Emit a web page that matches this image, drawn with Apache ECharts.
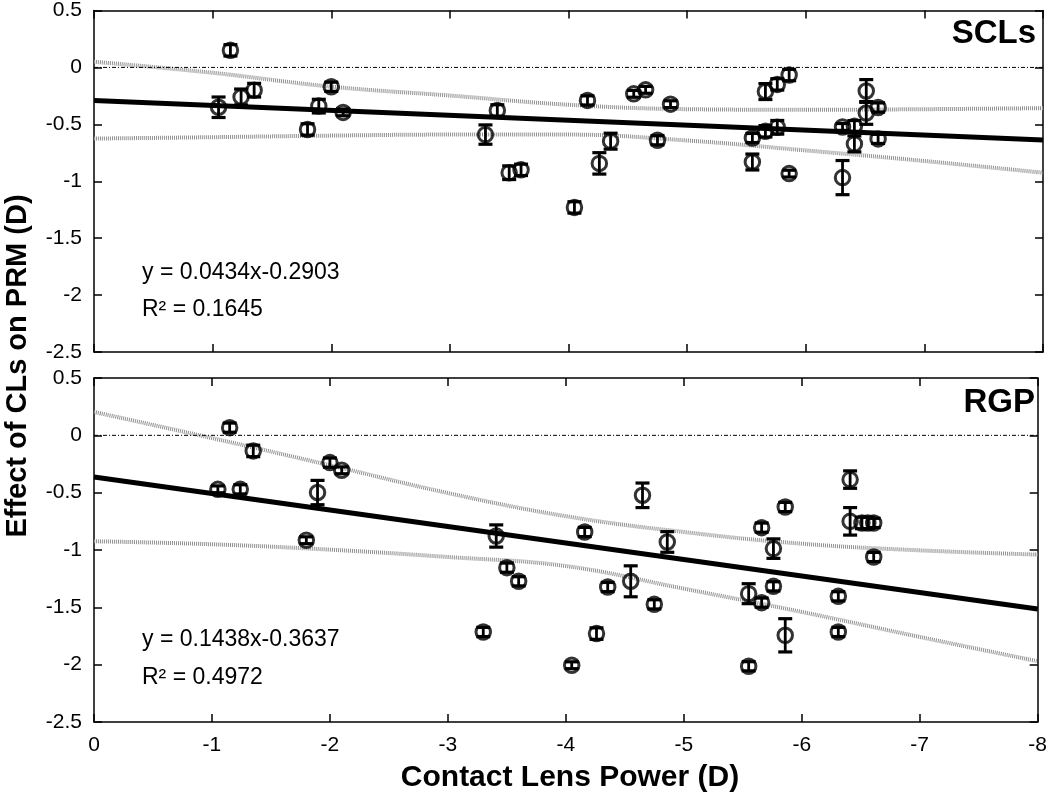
<!DOCTYPE html>
<html>
<head>
<meta charset="utf-8">
<script src="https://cdn.jsdelivr.net/npm/echarts@6/dist/echarts.min.js"></script>
<style>
html,body{margin:0;padding:0;background:#fff;}
#chart{width:1050px;height:796px;}
</style>
</head>
<body>
<div id="chart"></div>
<script>
// ---- Data ----
const xTicks = [0, -1, -2, -3, -4, -5, -6, -7, -8];

// SCLs panel
const powerSCL = [-1.05, -1.15, -1.24, -1.35, -1.80, -1.895, -2.00, -2.10,
  -3.30, -3.40, -3.50, -3.60,
  -4.05, -4.16, -4.26, -4.355, -4.55, -4.65, -4.75, -4.86,
  -5.55, -5.55, -5.66, -5.66, -5.76, -5.76, -5.86, -5.86,
  -6.31, -6.31, -6.41, -6.41, -6.51, -6.51, -6.61, -6.61];
const effectSCL = [-0.35, 0.15, -0.26, -0.20, -0.545, -0.34, -0.17, -0.395,
  -0.59, -0.378, -0.925, -0.90,
  -1.23, -0.29, -0.843, -0.648, -0.232, -0.197, -0.64, -0.323,
  -0.62, -0.831, -0.212, -0.561, -0.149, -0.526, -0.067, -0.933,
  -0.968, -0.523, -0.517, -0.672, -0.207, -0.40, -0.352, -0.628];
const errSCL = [0.09, 0.05, 0.07, 0.06, 0.05, 0.06, 0.04, 0.03,
  0.085, 0.05, 0.06, 0.05,
  0.05, 0.04, 0.094, 0.07, 0.03, 0.03, 0.04, 0.03,
  0.04, 0.07, 0.07, 0.05, 0.05, 0.06, 0.05, 0.03,
  0.15, 0.03, 0.05, 0.07, 0.10, 0.10, 0.04, 0.04];

// RGP panel
const powerRGP = [-1.05, -1.15, -1.24, -1.35, -1.80, -1.895, -2.00, -2.10,
  -3.30, -3.41, -3.50, -3.60,
  -4.05, -4.16, -4.26, -4.355, -4.55, -4.65, -4.75, -4.86,
  -5.55, -5.55, -5.66, -5.66, -5.76, -5.76, -5.86, -5.86,
  -6.31, -6.31, -6.41, -6.41, -6.51, -6.56, -6.61, -6.61];
const effectRGP = [-0.471, 0.067, -0.471, -0.136, -0.915, -0.499, -0.238, -0.305,
  -1.715, -0.878, -1.154, -1.273,
  -2.005, -0.843, -1.729, -1.323, -1.273, -0.523, -1.474, -0.930,
  -1.381, -2.014, -0.805, -1.459, -0.988, -1.317, -0.625, -1.744,
  -1.404, -1.715, -0.386, -0.75, -0.764, -0.764, -0.764, -1.061];
const errRGP = [0.03, 0.04, 0.04, 0.05, 0.03, 0.106, 0.04, 0.03,
  0.04, 0.097, 0.04, 0.04,
  0.03, 0.04, 0.05, 0.04, 0.135, 0.107, 0.04, 0.09,
  0.087, 0.04, 0.04, 0.04, 0.085, 0.04, 0.04, 0.145,
  0.04, 0.04, 0.076, 0.12, 0.05, 0.05, 0.04, 0.04];

// Regression lines (end points) and confidence bands
const regX = [0, -8];
const regSCL = [-0.2903, -0.6375];
const regRGP = [-0.3637, -1.514];
const bandX = [0, -1, -2, -3, -4, -5, -6, -7, -8];
const upperSCL = [0.05, -0.047, -0.169, -0.247, -0.328, -0.367, -0.372, -0.367, -0.358];
const lowerSCL = [-0.625, -0.613, -0.599, -0.59, -0.59, -0.642, -0.729, -0.822, -0.925];
const upperRGP = [0.204, -0.024, -0.261, -0.503, -0.705, -0.843, -0.945, -1.003, -1.04];
const lowerRGP = [-0.924, -0.95, -0.997, -1.061, -1.14, -1.337, -1.54, -1.758, -1.97];

const eqSCL = ['y = 0.0434x-0.2903', 'R\u00B2 = 0.1645'];
const eqRGP = ['y = 0.1438x-0.3637', 'R\u00B2 = 0.4972'];
const panelNames = ['SCLs', 'RGP'];

// ---- Chart ----
const FONT = 'Arial, "Liberation Sans", Helvetica, sans-serif';
const zip = (a, b) => a.map((v, i) => [v, b[i]]);
const zip3 = (a, b, c) => a.map((v, i) => [v, b[i], c[i]]);

function xAxisDef(grid, pos, labels) {
  return {
    gridIndex: grid, type: 'value', min: -8, max: 0, interval: 1, inverse: true,
    position: pos,
    axisLine: {show: true, onZero: false, lineStyle: {color: '#000', width: 1.5}},
    axisTick: {show: true, inside: true, length: 8, lineStyle: {color: '#000', width: 1.5}},
    axisLabel: {show: labels, color: '#000', fontSize: 21, fontFamily: FONT, margin: 13},
    splitLine: {show: false}
  };
}
function yAxisDef(grid, pos, labels) {
  return {
    gridIndex: grid, type: 'value', min: -2.5, max: 0.5, interval: 0.5,
    position: pos,
    axisLine: {show: true, onZero: false, lineStyle: {color: '#000', width: 1.5}},
    axisTick: {show: true, inside: true, length: 8, lineStyle: {color: '#000', width: 1.5}},
    axisLabel: {show: labels, color: '#000', fontSize: 21, fontFamily: FONT, margin: 12},
    splitLine: {show: false}
  };
}

function errRender(params, api) {
  const x = api.value(0), y = api.value(1), e = api.value(2);
  const t = api.coord([x, y + e]);
  const b = api.coord([x, y - e]);
  const hw = 7;
  const st = {stroke: '#000', lineWidth: 2.8, fill: null};
  const cap = {stroke: '#000', lineWidth: 3.2, fill: null};
  return {
    type: 'group',
    children: [
      {type: 'line', shape: {x1: t[0], y1: t[1], x2: b[0], y2: b[1]}, style: st},
      {type: 'line', shape: {x1: t[0] - hw, y1: t[1], x2: t[0] + hw, y2: t[1]}, style: cap},
      {type: 'line', shape: {x1: b[0] - hw, y1: b[1], x2: b[0] + hw, y2: b[1]}, style: cap}
    ]
  };
}

function panelSeries(xi, yi, upper, lower, reg, px, py, pe) {
  return [
    {type: 'line', xAxisIndex: xi, yAxisIndex: yi, data: zip(bandX, upper), smooth: 0.4,
      showSymbol: false, silent: true, lineStyle: {color: '#909090', width: 4, type: [1, 1]}},
    {type: 'line', xAxisIndex: xi, yAxisIndex: yi, data: zip(bandX, lower), smooth: 0.4,
      showSymbol: false, silent: true, lineStyle: {color: '#909090', width: 4, type: [1, 1]}},
    {type: 'line', xAxisIndex: xi, yAxisIndex: yi, data: [[0, 0], [-8, 0]],
      showSymbol: false, silent: true, lineStyle: {color: '#000', width: 1, type: [4, 2, 1, 2]}},
    {type: 'line', xAxisIndex: xi, yAxisIndex: yi, data: zip(regX, reg),
      showSymbol: false, silent: true, lineStyle: {color: '#000', width: 5}},
    {type: 'custom', xAxisIndex: xi, yAxisIndex: yi, data: zip3(px, py, pe),
      renderItem: errRender, encode: {x: 0, y: 1}, silent: true, z: 5},
    {type: 'scatter', xAxisIndex: xi, yAxisIndex: yi, data: zip(px, py),
      symbol: 'circle', symbolSize: 14.5, silent: true, z: 6,
      itemStyle: {color: 'rgba(0,0,0,0)', borderColor: '#000', borderWidth: 3}}
  ];
}

function txt(x, y, text, font, align) {
  return {type: 'text', x: x, y: y, silent: true, z: 100,
    style: {text: text, font: font, fill: '#000', textAlign: align, align: align,
      textVerticalAlign: 'middle', verticalAlign: 'middle'}};
}

const option = {
  animation: false,
  backgroundColor: '#fff',
  grid: [
    {left: 94, top: 8, width: 949, height: 344},
    {left: 94, top: 378, width: 949, height: 344}
  ],
  xAxis: [xAxisDef(0, 'bottom', false), xAxisDef(0, 'top', false),
          xAxisDef(1, 'bottom', true), xAxisDef(1, 'top', false)],
  yAxis: [yAxisDef(0, 'left', true), yAxisDef(0, 'right', false),
          yAxisDef(1, 'left', true), yAxisDef(1, 'right', false)],
  series: [].concat(
    panelSeries(0, 0, upperSCL, lowerSCL, regSCL, powerSCL, effectSCL, errSCL),
    panelSeries(2, 2, upperRGP, lowerRGP, regRGP, powerRGP, effectRGP, errRGP)
  ),
  graphic: [
    txt(142, 273, eqSCL[0], '23px ' + FONT, 'left'),
    txt(142, 310, eqSCL[1], '23px ' + FONT, 'left'),
    txt(142, 640, eqRGP[0], '23px ' + FONT, 'left'),
    txt(142, 678, eqRGP[1], '23px ' + FONT, 'left'),
    txt(1036, 34, panelNames[0], 'bold 33px ' + FONT, 'right'),
    txt(1035, 403, panelNames[1], 'bold 33px ' + FONT, 'right'),
    txt(570, 778, 'Contact Lens Power (D)', 'bold 30px ' + FONT, 'center'),
    {type: 'text', x: 18, y: 366, rotation: Math.PI / 2, silent: true, z: 100,
      style: {text: 'Effect of CLs on PRM (D)', font: 'bold 29px ' + FONT, fill: '#000',
        textAlign: 'center', align: 'center', textVerticalAlign: 'middle', verticalAlign: 'middle'}}
  ]
};

const chart = echarts.init(document.getElementById('chart'), null, {renderer: 'canvas'});
chart.setOption(option);
</script>
</body>
</html>
